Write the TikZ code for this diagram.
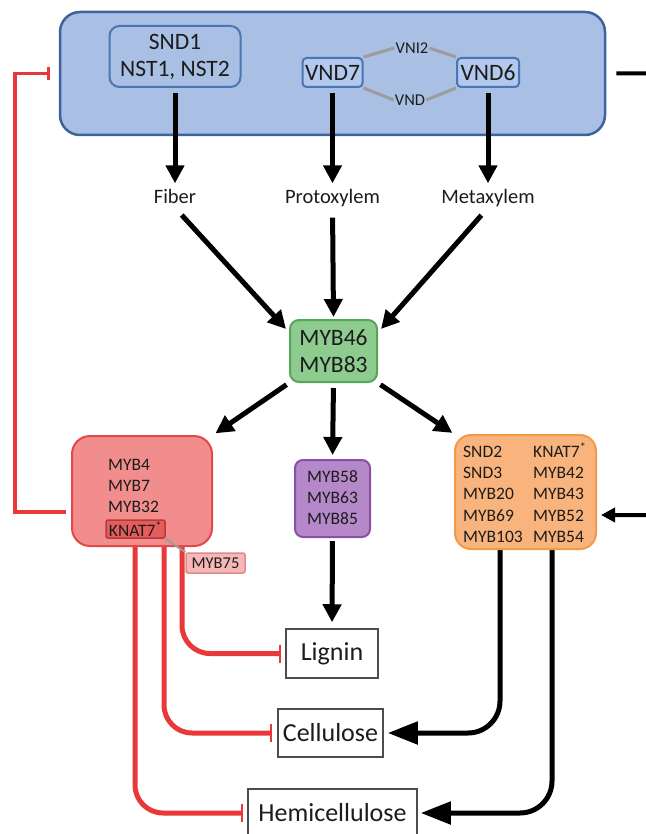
\documentclass[tikz,border=0pt]{standalone}
\usepackage{fontspec}
\setmainfont{Carlito}
\usetikzlibrary{arrows.meta,calc}
\definecolor{blueF}{HTML}{A9BFE4}
\definecolor{blueS}{HTML}{3E639C}
\definecolor{vndF}{HTML}{B2C8EC}
\definecolor{vndS}{HTML}{4A76B3}
\definecolor{greenF}{HTML}{8DCB8E}
\definecolor{greenS}{HTML}{55A656}
\definecolor{redF}{HTML}{F28D8D}
\definecolor{redS}{HTML}{E4484A}
\definecolor{knatF}{HTML}{E35D5D}
\definecolor{knatS}{HTML}{C23535}
\definecolor{pinkF}{HTML}{F6B8B6}
\definecolor{pinkS}{HTML}{E08A88}
\definecolor{purpF}{HTML}{B488C9}
\definecolor{purpS}{HTML}{8A4FA6}
\definecolor{orangeF}{HTML}{F8B47C}
\definecolor{orangeS}{HTML}{F29A48}
\definecolor{inhib}{HTML}{E8383A}
\definecolor{grayL}{HTML}{9C9C9C}
\definecolor{txt}{HTML}{1C1C1C}
\tikzset{
  box/.style={draw, line width=2pt, inner sep=0pt, align=center, text=txt},
  lbl/.style={font=\fontsize{20.5}{24}\selectfont, text height=13pt, text depth=4pt, inner sep=0pt, text=txt},
  arr/.style={line width=5pt, -{Triangle[length=18pt,width=18pt]}},
  bigarr/.style={line width=5pt, -{Triangle[length=30pt,width=22pt]}, rounded corners=32pt},
  inh/.style={draw=inhib, line width=5pt, -{Bar[width=18pt,line width=2pt]}, rounded corners=28pt},
  outbox/.style={draw=black!70, line width=1.5pt, fill=white, inner sep=0pt, font=\fontsize{26}{30}\selectfont, text=txt},
  genes/.style={font=\fontsize{17.5}{21}\selectfont, text=txt, inner sep=0pt, text height=11pt, text depth=0pt},
  grayline/.style={draw=grayL, line width=3pt},
}
\begin{document}
\begin{tikzpicture}[x=1pt,y=-1pt]
\useasboundingbox[fill=white] (0,0) rectangle (645,834);

% top blue box
\node[draw=blueS, fill=blueF, line width=2.5pt, rounded corners=20pt, minimum width=545pt, minimum height=123pt] (blue) at (332.5,73.5) {};
\node[box, draw=vndS, fill=blueF, rounded corners=10pt, minimum width=131pt, minimum height=61pt, font=\fontsize{23.5}{27}\selectfont] (snd1) at (175,56.5) {SND1\\NST1, NST2};
\node[box, draw=vndS, fill=vndF, rounded corners=4pt, minimum width=60pt, minimum height=29pt, font=\fontsize{23.5}{27}\selectfont] (vnd7) at (332.5,72.5) {VND7};
\node[box, draw=vndS, fill=vndF, rounded corners=4pt, minimum width=62pt, minimum height=29pt, font=\fontsize{23.5}{27}\selectfont] (vnd6) at (488,72.5) {VND6};
\node[inner sep=1pt, font=\fontsize{16.5}{19}\selectfont, text=txt] (vni2) at (412,48) {VNI2};
\node[inner sep=1pt, font=\fontsize{16.5}{19}\selectfont, text=txt] (vnd) at (410,100) {VND};
\draw[grayline] (vnd7.north east) -- (vni2.west);
\draw[grayline] (vni2.east) -- (vnd6.north west);
\draw[grayline] (vnd7.south east) -- (vnd.west);
\draw[grayline] (vnd.east) -- (vnd6.south west);

% tissue labels
\node[lbl] (fiber) at (175,199) {Fiber};
\node[lbl] (proto) at (332.5,199) {Protoxylem};
\node[lbl] (meta) at (488,199) {Metaxylem};
\draw[arr, shorten >=7pt] (snd1.south) ++(0,5) -- (snd1.south |- fiber.north);
\draw[arr, shorten >=7pt] (vnd7.south) ++(0,5) -- (vnd7.south |- proto.north);
\draw[arr, shorten >=7pt] (vnd6.south) ++(0,5) -- (vnd6.south |- meta.north);

% MYB46
\node[box, draw=greenS, fill=greenF, rounded corners=9pt, minimum width=87pt, minimum height=62pt, font=\fontsize{23.5}{27}\selectfont] (myb46) at (333.5,351) {MYB46\\MYB83};
\draw[arr, shorten <=10pt] (fiber.south) -- ($(myb46.north west)+(-3,10)$);
\draw[arr, shorten <=10pt, shorten >=2pt] (proto.south) -- (myb46.north);
\draw[arr, shorten <=10pt] (meta.south) -- ($(myb46.north east)+(3,10)$);

% starts of the lower red lines (under the red box)
\coordinate (s1) at (135,530);
\coordinate (s2) at (164,530);
\coordinate (s3) at (182,530);

% output boxes
\node[outbox, minimum width=92pt, minimum height=49pt] (lignin) at (332,653.5) {Lignin};
\node[outbox, minimum width=105pt, minimum height=48pt] (cell) at (330.5,733) {Cellulose};
\node[outbox, minimum width=169pt, minimum height=48pt] (hemi) at (332.5,813) {Hemicellulose};

\draw[inh, shorten >=4pt] (s1) |- (hemi.west);
\draw[inh, shorten >=5pt] (s2) |- (cell.west);
\draw[inh, shorten >=4pt] (s3) |- (lignin.west);

% black curved arrows from orange box
\coordinate (o1) at (500,540);
\coordinate (o2) at (552,540);
\draw[bigarr, shorten >=4pt] (o1) |- (cell.east);
\draw[bigarr, shorten >=3pt] (o2) |- (hemi.east);

% red box
\node[draw=redS, fill=redF, line width=2pt, rounded corners=18pt, minimum width=140pt, minimum height=110pt] (red) at (142,491) {};
\node[genes, anchor=west] (r1) at (108,465) {MYB4};
\node[genes, anchor=west] (r2) at (108,486) {MYB7};
\node[genes, anchor=west] (r3) at (108,507) {MYB32};
\node[draw=knatS, fill=knatF, line width=1.5pt, rounded corners=2pt, minimum width=59pt, minimum height=18pt, inner sep=0pt, font=\fontsize{17.5}{21}\selectfont, text=txt] (knat) at (135.5,529) {KNAT7\textsuperscript{*}};
\node[draw=pinkS, fill=pinkF, line width=1.5pt, rounded corners=2pt, minimum width=59pt, minimum height=20pt, inner sep=0pt, font=\fontsize{16.5}{20}\selectfont, text=txt] (myb75) at (215.5,563) {MYB75};
\draw[grayline, line width=2pt] (knat.south east) -- (myb75.north west);

% purple box
\node[box, draw=purpS, fill=purpF, rounded corners=8pt, minimum width=75pt, minimum height=77pt] (purp) at (332.5,498.5) {};
\node[genes] (p1) at (332.5,477) {MYB58};
\node[genes] (p2) at (332.5,498) {MYB63};
\node[genes] (p3) at (332.5,519) {MYB85};

% orange box
\node[draw=orangeS, fill=orangeF, line width=2pt, rounded corners=16pt, minimum width=141pt, minimum height=114pt] (orange) at (525.5,492) {};
\foreach \t [count=\i] in {SND2,SND3,MYB20,MYB69,MYB103}
  \node[genes, anchor=west] (ol\i) at (463,{452+21.2*(\i-1)}) {\t};
\foreach \t [count=\i] in {KNAT7\textsuperscript{*},MYB42,MYB43,MYB52,MYB54}
  \node[genes, anchor=west] (or\i) at (533,{452+21.2*(\i-1)}) {\t};

% arrows from MYB46
\draw[arr, shorten <=3pt, shorten >=3pt] (myb46.south west) -- (red.north east);
\draw[arr, shorten <=5pt, shorten >=4pt] (myb46.south) -- (purp.north);
\draw[arr, shorten <=3pt, shorten >=2pt] (myb46.south east) -- (orange.north west);
\draw[arr, shorten <=3pt, shorten >=6pt] (purp.south) -- (lignin.north);

% feedback loops
\coordinate (rl) at ($(red.west)+(0,21)$);
\coordinate (lx) at (15,300);
\draw[draw=inhib, line width=3.5pt, -{Bar[width=13pt,line width=2.5pt]}, shorten <=5pt, shorten >=9pt] (rl) -| (lx) |- (blue.west);
\coordinate (rx) at (658,300);
\coordinate (oin) at ($(orange.east)+(0,23)$);
\draw[line width=4pt, -{Triangle[length=14pt,width=14pt]}, rounded corners=12pt, shorten <=10pt, shorten >=4pt] (blue.east) -| (rx) |- (oin);
\end{tikzpicture}
\end{document}
